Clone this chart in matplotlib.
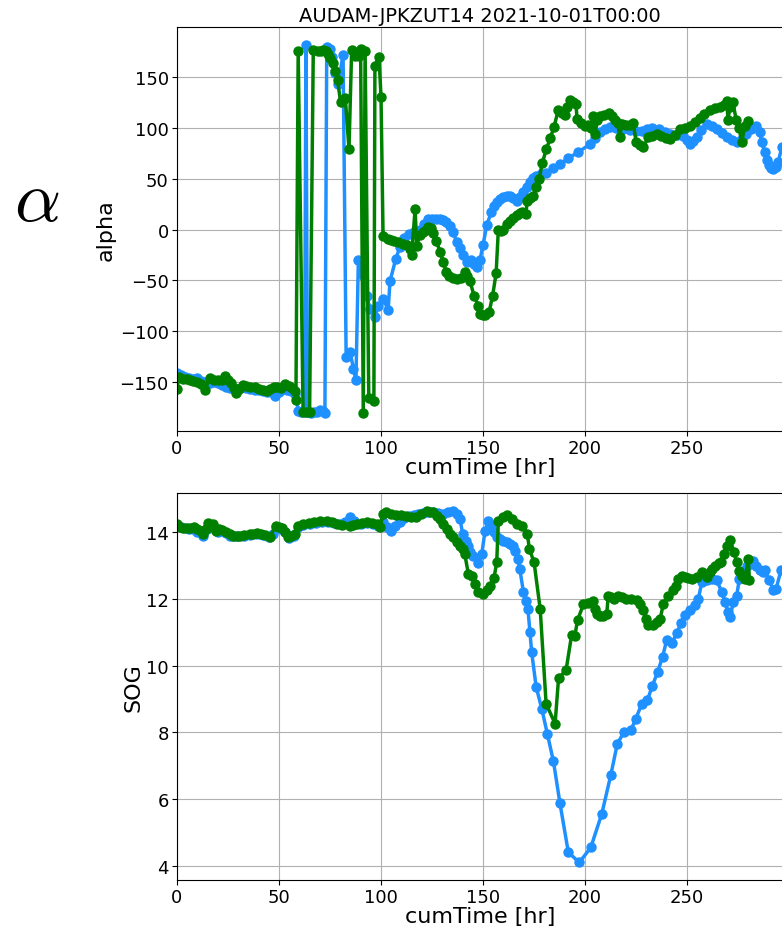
import matplotlib.pyplot as plt

# Heading angle (alpha) vs cumulative time, two tracks
alpha_time_blue = [0, 2, 4, 6, 8, 10, 12, 14, 16, 18, 20, 22, 24, 26, 28, 30, 32, 34, 36, 38, 40, 42, 44, 46, 48, 50,
                   52, 54, 56, 58, 59.5, 61, 62.5, 63.2, 64, 65.5, 67, 68.5, 70, 71.5, 72.5, 73.4, 75, 76, 77.5, 79,
                   81.4, 82.9, 84.8, 86.5, 87.7, 88.9, 91, 93, 94.6, 97, 98.7, 101, 103.5, 104.4, 107.2, 109.3, 111.5,
                   113.7, 116, 119, 121, 123, 125, 127, 129, 130.4, 132, 134, 135.3, 137, 138.7, 140, 142, 144, 145.5,
                   147, 148.5, 150, 151.8, 154, 155.5, 156.7, 158.3, 160, 161.5, 163, 164.8, 166.5, 168, 169.7, 171.3,
                   173, 174.5, 176, 178.5, 181, 184.5, 187.7, 191.7, 196.6, 202.5, 205, 207.4, 209.7, 212, 215, 218.6,
                   222, 225, 228, 230.5, 233, 236, 239, 241.7, 245, 248, 250, 251.5, 253, 254.7, 257, 259.6, 262,
                   264.6, 267, 269.5, 272, 274.4, 276.7, 279, 281.5, 284, 285.5, 286.6, 288, 289, 290, 291, 292,
                   293.4, 294.6, 296.4]
alpha_blue = [-141, -143, -145, -146, -147, -146, -149, -150, -151, -150, -151, -153, -155, -156, -157, -157, -155,
              -156, -157, -158, -158, -159, -160, -160, -164, -160, -157, -158, -159, -162, -178, -179, -179, 181,
              -179, -180, -179, -179, -177, -178, -180, 179, 177, 170, 154, 143, 172, -125, -120, -137, -148, -30,
              -45, -65, -78, -86, -75, -68, -79, -51, -29, -17, -8, -4, -2, 0, 5, 10, 10, 10, 10, 9, 7, 3, -2, -12,
              -18, -25, -32, -30, -34, -37, -30, -15, 4, 17, 23, 27, 30, 32, 33, 33, 31, 28, 32, 37, 42, 47, 51, 53,
              55, 56, 60, 64, 70, 76, 84, 90, 96, 99, 101, 100, 99, 98, 97, 97, 99, 100, 99, 96, 94, 93, 92, 88, 84,
              87, 91, 98, 104, 102, 99, 95, 91, 88, 86, 89, 94, 99, 102, 96, 86, 76, 68, 63, 60, 59, 61, 66, 81]

alpha_time_green = [0, 1, 3, 5, 6.4, 8, 10, 12, 13.7, 16, 18, 20, 22, 23.7, 25, 26.5, 28, 29, 30.5, 32.5, 34, 36, 38,
                    40, 42, 44, 45.5, 47.4, 49, 51, 53, 55, 56.5, 58, 58.3, 59.4, 61.8, 63.5, 65, 66.8, 69, 70.5,
                    71.7, 73, 74, 75, 76.5, 77.5, 78.7, 80.2, 81.3, 82.5, 84.3, 85.6, 87.3, 89, 90, 91.3, 92.2, 94,
                    96.5, 97, 99, 100, 101, 103.5, 105, 106.6, 108.5, 111, 112.5, 114, 115, 116.7, 117.5, 119, 120.6,
                    122, 123, 124.3, 125.5, 127, 129, 130.5, 132, 133.5, 135.5, 137, 139, 141, 142.3, 143.6, 145.6,
                    147.7, 148.5, 150, 151, 153, 154.7, 156.4, 157.5, 158.8, 160, 161.5, 163, 164.8, 166.5, 168, 169,
                    171, 171.6, 173, 174.5, 176, 177.5, 179, 181, 183, 184.8, 186.8, 188.5, 190, 191.3, 192.6, 194,
                    195.6, 196, 198, 200, 201.5, 203, 204, 205, 206, 207.4, 209.5, 211.5, 213, 214.7, 216, 217, 218,
                    220, 222, 223.6, 225, 227, 228.6, 231, 233, 235, 237, 239.5, 241.7, 244, 246.6, 249, 251.5, 254,
                    256.4, 258.5, 261, 263.5, 266, 268, 269.5, 270, 271, 272.5, 274, 275.5, 276.7, 278.4, 280]
alpha_green = [-157, -145, -147, -147, -148, -149, -150, -152, -158, -146, -148, -148, -148, -144, -148, -151, -156,
               -161, -157, -153, -154, -155, -155, -157, -158, -159, -157, -155, -155, -156, -152, -154, -156, -159,
               -168, 175.5, -179, -179, -179, 176, 175, 175, 176, 175, 173, 169, 164, 156, 147, 125, 127, 129, 79,
               176, 171, 171, 177, -180, 175, -166, -169, 161, 170, 130, -6, -9, -10, -11, -12, -14, -15, -19, -25,
               20, -16, -5, -2, 0, 2, 1, -3, -11, -22, -32, -42, -46, -48, -49, -48, -42, -46, -51, -65, -75, -83,
               -84, -84, -81, -65, -43, 0, -1, 0, 5, 8, 11, 14, 16, 17, 15, 28, 31, 33, 42, 50, 65, 79, 90, 101, 117,
               115, 113, 120, 127, 125, 123, 109, 105, 102, 103, 100, 112, 94, 108, 112, 113, 115, 112, 108, 105, 91,
               104, 103, 103, 105, 86, 83, 81, 91, 92, 94, 92, 90, 89, 93, 99, 100, 102, 106, 110, 114, 117, 119,
               120, 122, 126.5, 108, 120, 125, 108, 100, 86, 102, 107]

# Speed over ground vs cumulative time
sog_time_blue = [0, 2, 4, 6, 8, 10, 12.7, 14.5, 16, 18, 20, 22, 24, 26, 28, 30, 33, 36, 39, 42, 45, 47, 48.5, 51, 53,
                 55, 57.5, 59.5, 62, 65, 68, 71, 74, 77, 80, 82.5, 84.8, 87, 90, 93, 96, 98.5, 101, 103, 105, 107,
                 109.3, 111.5, 113.7, 116, 118, 120.5, 123, 125.5, 128, 130.5, 133, 135.3, 137, 138.7, 140, 141.5,
                 142.6, 143.6, 145, 147.5, 149.4, 151, 152.6, 154, 155.5, 156.7, 158.3, 160, 161.5, 163, 164.5,
                 165.7, 167, 168, 169.8, 171, 172, 173, 173.8, 176, 178.8, 181.5, 184.5, 187.7, 191.8, 197.2, 202.8,
                 208.2, 212.6, 215.8, 219, 222.4, 224.8, 227.8, 230.5, 233, 235.6, 238, 240, 242.5, 245, 247, 249,
                 251.5, 254, 255.5, 257.2, 259.6, 262, 264.6, 267, 268.6, 270, 271, 272.7, 274.3, 275.6, 277.5,
                 279.3, 281, 282.5, 284, 285.8, 287, 288.2, 290.3, 292.3, 293.6, 296]
sog_blue = [14.18, 14.15, 14.12, 14.1, 14.1, 14.02, 13.9, 14.1, 14.18, 14.12, 14.02, 14.05, 13.98, 13.9, 13.88, 13.88,
            13.9, 13.93, 13.95, 13.92, 13.85, 13.95, 14.15, 14.1, 14.0, 13.82, 13.9, 14.15, 14.22, 14.25, 14.28,
            14.3, 14.32, 14.28, 14.25, 14.3, 14.45, 14.35, 14.25, 14.28, 14.25, 14.18, 14.3, 14.15, 14.05, 14.2,
            14.3, 14.42, 14.5, 14.52, 14.55, 14.58, 14.6, 14.6, 14.58, 14.55, 14.6, 14.65, 14.55, 14.4, 13.96,
            13.75, 13.6, 13.4, 13.3, 13.07, 13.36, 14.05, 14.35, 14.2, 14.0, 13.85, 13.8, 13.75, 13.7, 13.66, 13.6,
            13.45, 13.2, 12.9, 12.2, 11.95, 11.7, 11.0, 10.42, 9.37, 8.7, 7.96, 7.13, 5.87, 4.4, 4.1, 4.55, 5.56,
            6.72, 7.66, 8.0, 8.06, 8.4, 8.86, 8.96, 9.4, 9.82, 10.27, 10.77, 10.67, 10.99, 11.27, 11.51, 11.66,
            11.81, 12.0, 12.5, 12.56, 12.6, 12.56, 12.2, 11.9, 11.6, 11.46, 11.9, 12.1, 12.6, 12.85, 13.0, 13.1,
            13.15, 13.0, 12.86, 12.8, 12.86, 12.56, 12.26, 12.3, 12.86]

sog_time_green = [0, 1.5, 3, 5, 6.5, 8.5, 10, 11.8, 12.9, 14, 15.4, 17.5, 19, 20.5, 22.2, 24, 26, 27.5, 29.2, 31, 33,
                  35.7, 37.5, 39, 41, 43, 45.6, 48.5, 50, 51.3, 53, 54.6, 56, 57.8, 59.5, 62, 64.5, 67, 70, 73.4,
                  76, 78.3, 81, 84.8, 86.5, 88, 90.5, 93, 95.5, 98, 99.6, 101, 102.6, 105, 107.4, 110, 112.3,
                  114.5, 117, 119.5, 122.4, 124, 125.7, 127.5, 129, 130.5, 132.2, 134, 135.5, 137, 138.7, 140, 141,
                  142.8, 144.4, 146, 147.7, 149.8, 151.8, 153.6, 155.4, 156.7, 157.5, 160, 161.6, 164, 166.5, 169,
                  171.7, 172.7, 175, 178, 180.9, 185.3, 187, 190.7, 193.4, 195, 196.3, 199.2, 201.5, 204, 205, 206,
                  207.4, 209, 210.6, 211.4, 212.5, 214, 216.3, 218, 220, 222.5, 225.4, 227, 228.6, 230, 231, 233.5,
                  235, 236.8, 238.4, 240.8, 243, 244.5, 245.7, 247.5, 249, 250.5, 252.3, 254.7, 257.2, 259.6, 261,
                  262, 263.8, 265.4, 266.7, 267.9, 269.5, 271.2, 272.9, 274.3, 275.5, 276.7, 278.4, 280, 280.5]
sog_green = [14.25, 14.15, 14.12, 14.14, 14.12, 14.15, 14.1, 14.04, 13.95, 14.1, 14.27, 14.25, 14.05, 14.1, 14.07,
             14.0, 13.95, 13.9, 13.9, 13.9, 13.92, 13.95, 13.96, 13.97, 13.95, 13.92, 13.87, 14.2, 14.15, 14.13,
             14.02, 13.87, 13.9, 13.95, 14.2, 14.25, 14.27, 14.3, 14.33, 14.35, 14.3, 14.25, 14.22, 14.2, 14.22,
             14.25, 14.27, 14.3, 14.27, 14.25, 14.15, 14.55, 14.6, 14.55, 14.53, 14.52, 14.5, 14.47, 14.45, 14.55,
             14.63, 14.62, 14.6, 14.5, 14.4, 14.25, 14.1, 13.95, 13.85, 13.72, 13.6, 13.5, 13.35, 12.76, 12.7,
             12.46, 12.2, 12.14, 12.26, 12.4, 12.64, 13.1, 14.35, 14.45, 14.53, 14.4, 14.25, 14.2, 13.95, 13.5,
             13.1, 11.7, 8.86, 8.26, 9.62, 9.87, 10.92, 10.9, 11.36, 11.84, 11.88, 11.94, 11.71, 11.55, 11.48, 11.5,
             11.56, 12.1, 12.05, 12.0, 12.1, 12.05, 12.0, 12.0, 11.98, 11.85, 11.66, 11.4, 11.21, 11.21, 11.3,
             11.41, 11.86, 12.1, 12.26, 12.4, 12.6, 12.68, 12.66, 12.62, 12.6, 12.66, 12.8, 12.66, 12.8, 12.9,
             13.0, 13.07, 13.1, 13.35, 13.6, 13.77, 13.4, 13.1, 12.85, 12.7, 12.6, 13.2, 12.58]

title = 'AUDAM-JPKZUT14 2021-10-01T00:00'
blue = '#1e90ff'
green = 'green'

fig = plt.figure(figsize=(7.82, 9.28), dpi=100)
ax1 = fig.add_axes([0.2263, 0.5345, 0.775, 0.4353])
ax2 = fig.add_axes([0.2263, 0.0506, 0.775, 0.4171])

# Top panel: alpha
ax1.plot(alpha_time_blue, alpha_blue, '-o', color=blue, lw=2.5, ms=6.5)
ax1.plot(alpha_time_green, alpha_green, '-o', color=green, lw=2.5, ms=6.5)
ax1.set_xlim(0, 297)
ax1.set_ylabel('alpha', fontsize=16, labelpad=2.5)
ax1.set_xlabel('cumTime [hr]', fontsize=16, labelpad=0)
ax1.set_title(title, fontsize=14, pad=4)
ax1.grid(True)
ax1.tick_params(labelsize=13, pad=2.5)

# Bottom panel: SOG
ax2.plot(sog_time_blue, sog_blue, '-o', color=blue, lw=2.5, ms=6.5)
ax2.plot(sog_time_green, sog_green, '-o', color=green, lw=2.5, ms=6.5)
ax2.set_xlim(0, 297)
ax2.set_ylabel('SOG', fontsize=16, labelpad=1.5)
ax2.set_xlabel('cumTime [hr]', fontsize=16, labelpad=0)
ax2.grid(True)
ax2.tick_params(labelsize=13, pad=2.5)

# Big greek letter on the left
plt.rcParams['mathtext.fontset'] = 'cm'
fig.text(0.047, 1 - 202 / 928, r'$\alpha$', fontsize=52, ha='center', va='center')

plt.savefig('out.png', dpi=100)
